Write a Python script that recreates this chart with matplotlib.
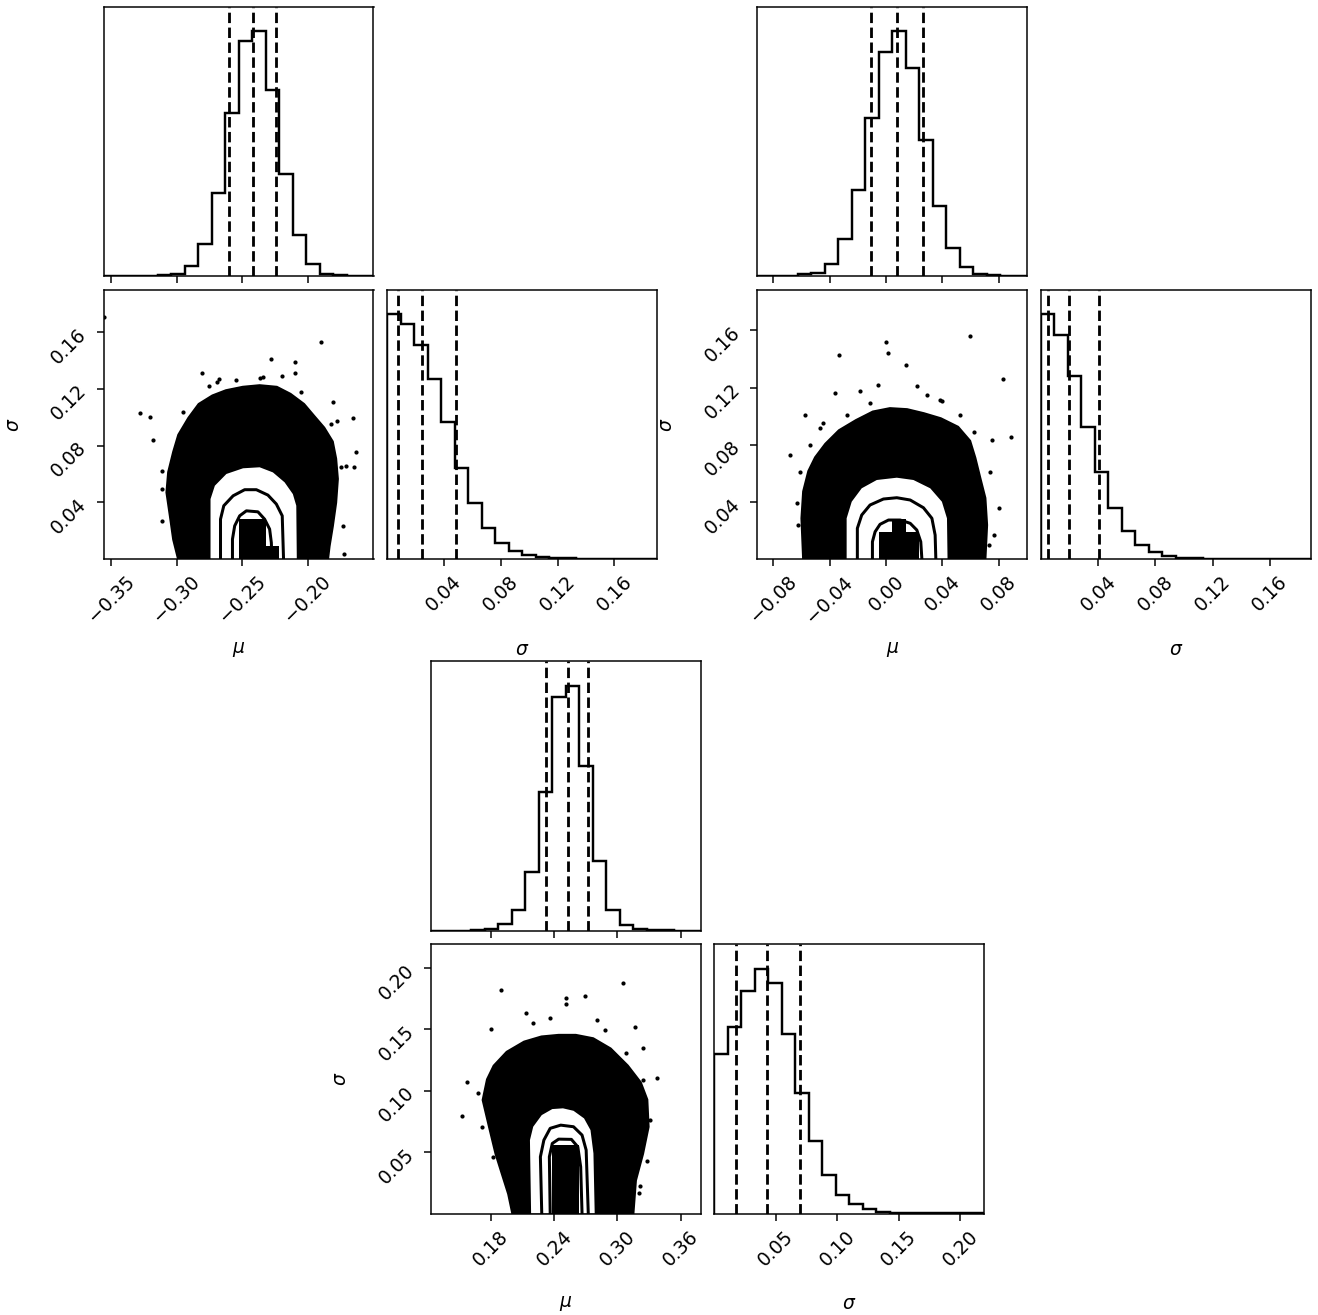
import numpy as np
import matplotlib
matplotlib.use("Agg")
import matplotlib.pyplot as plt

DPI = 135
W, H = 1318, 1315

# ================= set A (top-left) =================
A_mu_range = (-0.3556, -0.150)
A_sig_range = (0.0, 0.19)
A_mu_counts = [0, 0, 0, 1, 3, 11, 41, 132, 338, 668, 958, 1000, 759, 417, 168, 49, 11, 3, 0.5, 0.3]
A_sig_counts = [1000, 959, 873, 736, 561, 373, 228, 129, 67, 33, 16, 7, 4, 3, 2, 1, 0.6, 0.5, 0.3, 0.3]
A_mu_q = [-0.260, -0.2418, -0.224]
A_sig_q = [0.0077, 0.0243, 0.0484]
A_mu_ticks = [-0.35, -0.30, -0.25, -0.20]
A_sig_ticks = [0.04, 0.08, 0.12, 0.16]
A_cloud_mu = [-0.2974, -0.3012, -0.3037, -0.3063, -0.305, -0.3012, -0.2974, -0.2898, -0.2822,
              -0.2721, -0.262, -0.2493, -0.2367, -0.224, -0.2139, -0.2038, -0.1962, -0.1886,
              -0.1823, -0.1798, -0.1785, -0.1798, -0.1823, -0.1848, -0.186]
A_cloud_sig = [0, 0.0141, 0.0306, 0.0471, 0.0612, 0.0754, 0.0872, 0.099, 0.1085,
               0.1143, 0.1179, 0.1203, 0.1214, 0.1203, 0.1155, 0.1085, 0.1002, 0.092,
               0.0825, 0.0707, 0.0566, 0.04, 0.0235, 0.0093, 0]
A_out_mu = [-0.1899, -0.2101, -0.2094, -0.3278, -0.178, -0.1659, -0.1633, -0.1735, -0.1722,
            -0.3113, -0.2278, -0.3556, -0.2367, -0.2545, -0.275, -0.295, -0.311, -0.175,
            -0.182, -0.205, -0.2680, -0.2200, -0.2805, -0.2342, -0.2695, -0.3177, -0.3202,
            -0.3113, -0.3050, -0.1709, -0.1646, -0.1810]
A_out_sig = [0.1529, 0.1387, 0.1316, 0.1033, 0.0971, 0.0995, 0.0754, 0.0235, 0.0035,
             0.027, 0.141, 0.171, 0.128, 0.126, 0.122, 0.104, 0.062, 0.065,
             0.095, 0.118, 0.127, 0.129, 0.1316, 0.1285, 0.1250, 0.0837, 0.1002,
             0.0495, 0.0400, 0.0660, 0.0648, 0.1108]
A_c1_mu = [-0.2741, -0.2741, -0.2708, -0.262, -0.2493, -0.2367, -0.2266, -0.2177, -0.2114, -0.2088, -0.2084]
A_c1_sig = [0, 0.0424, 0.0518, 0.0601, 0.0641, 0.0648, 0.0612, 0.0542, 0.0459, 0.0377, 0]
A_c2_mu = [-0.2665, -0.2665, -0.264, -0.2569, -0.2481, -0.2392, -0.2304, -0.224, -0.2195, -0.2185]
A_c2_sig = [0, 0.0282, 0.0377, 0.0447, 0.049, 0.049, 0.0452, 0.0389, 0.0306, 0]
A_c3_mu = [-0.2574, -0.2574, -0.2557, -0.2519, -0.2468, -0.238, -0.2329, -0.2291, -0.2278, -0.2273]
A_c3_sig = [0, 0.0141, 0.0235, 0.0306, 0.0341, 0.0334, 0.0282, 0.0212, 0.0117, 0]
A_blk_left = [-0.2528, -0.2322]
A_blk_right = [-0.2322, -0.2222]
A_blk_top = [0.0285, 0.0095]

# ================= set B (top-right) =================
B_mu_range = (-0.0914, 0.1002)
B_sig_range = (0.0, 0.1885)
B_mu_counts = [0, 0, 1, 7, 14, 49, 150, 352, 647, 915, 1000, 850, 557, 288, 116, 38, 9.5, 3, 0.5, 0.3]
B_sig_counts = [1000, 916, 748, 540, 354, 211, 114, 59, 29, 14, 5.5, 3, 1.5, 1, 0.6, 0.4, 0.3, 0.2, 0.1, 0.1]
B_mu_q = [-0.0109, 0.0076, 0.0261]
B_sig_q = [0.0053, 0.0194, 0.0407]
B_mu_ticks = [-0.08, -0.04, 0.00, 0.04, 0.08]
B_sig_ticks = [0.04, 0.08, 0.12, 0.16]
B_cloud_mu = [-0.0576, -0.0588, -0.0576, -0.054, -0.0493, -0.0422, -0.0327, -0.0208, -0.009,
              0.0028, 0.0147, 0.0265, 0.0384, 0.0503, 0.0585, 0.0621, 0.0656, 0.0692, 0.0704, 0.0692]
B_cloud_sig = [0, 0.0286, 0.0472, 0.0612, 0.0706, 0.0799, 0.0892, 0.0962, 0.1021,
               0.1044, 0.1037, 0.1009, 0.0974, 0.0916, 0.0822, 0.0706, 0.0566, 0.0426, 0.0239, 0]
B_out_mu = [-0.0002, 0.0592, -0.0336, 0.0017, 0.0142, -0.0578, 0.0887, 0.0827, -0.0683,
            -0.0635, 0.0751, -0.0363, 0.0218, -0.0055, 0.0799, 0.0763, -0.0185, 0.0400, -0.0450,
            -0.0114, 0.0289, 0.0384, 0.0526, 0.0621, -0.0469, -0.0540, -0.0611, -0.0624,
            0.0739, 0.0727, -0.0280]
B_out_sig = [0.1519, 0.1558, 0.1425, 0.1439, 0.1355, 0.1009, 0.0853, 0.126, 0.0729,
             0.0391, 0.0834, 0.1161, 0.1208, 0.122, 0.0356, 0.0169, 0.1173, 0.1110, 0.0950,
             0.1091, 0.1150, 0.1115, 0.1009, 0.0892, 0.0916, 0.0799, 0.0612, 0.0239,
             0.0612, 0.0099, 0.1009]
B_c1_mu = [-0.028, -0.028, -0.0244, -0.0173, -0.0066, 0.0076, 0.0194, 0.0313, 0.0396, 0.0432, 0.0436]
B_c1_sig = [0, 0.0286, 0.0402, 0.0496, 0.0554, 0.057, 0.0554, 0.0496, 0.0402, 0.0286, 0]
B_c2_mu = [-0.0204, -0.0204, -0.0173, -0.0114, -0.0019, 0.0076, 0.0171, 0.0265, 0.0325, 0.0348, 0.0353]
B_c2_sig = [0, 0.0216, 0.0309, 0.0379, 0.0421, 0.043, 0.0414, 0.036, 0.0286, 0.0169, 0]
B_c3_mu = [-0.0097, -0.0097, -0.0078, -0.0043, 0.0017, 0.01, 0.0171, 0.0218, 0.0246, 0.0254]
B_c3_sig = [0, 0.0122, 0.0192, 0.0244, 0.0274, 0.0274, 0.0251, 0.0204, 0.0122, 0]
B_blk_left = [-0.0052, 0.0044, 0.0140]
B_blk_right = [0.0044, 0.0140, 0.0236]
B_blk_top = [0.0188, 0.0282, 0.0188]

# ================= set C (bottom) =================
C_mu_range = (0.123, 0.379)
C_sig_range = (0.0, 0.2196)
C_mu_counts = [0, 0, 0, 1.4, 5.5, 24.5, 82, 240, 567, 952, 1000, 672, 285, 82, 22, 5.5, 1.4, 0.3, 0, 0]
C_sig_counts = [652, 761, 907, 1000, 939, 734, 492, 295, 157, 76, 38, 18, 8, 4, 3, 1.5, 1, 0.5, 0.3, 0.2]
C_mu_q = [0.2321, 0.2528, 0.2718]
C_sig_q = [0.0175, 0.0426, 0.0696]
C_mu_ticks = [0.18, 0.24, 0.30, 0.36]
C_sig_ticks = [0.05, 0.10, 0.15, 0.20]
C_cloud_mu = [0.2021, 0.1981, 0.1921, 0.1861, 0.18, 0.174, 0.178, 0.1841, 0.1961, 0.2122, 0.2283,
              0.2443, 0.2604, 0.2765, 0.2926, 0.3086, 0.3207, 0.3267, 0.3279, 0.3227, 0.3159, 0.3135]
C_cloud_sig = [0, 0.0163, 0.0326, 0.049, 0.0707, 0.0925, 0.1088, 0.1196, 0.1306, 0.1387, 0.1428,
               0.1441, 0.1441, 0.1414, 0.1333, 0.1196, 0.1061, 0.0925, 0.0707, 0.049, 0.0272, 0]
C_out_mu = [0.1531, 0.1571, 0.18, 0.1893, 0.2134, 0.2512, 0.2512, 0.2697, 0.3054, 0.3167,
            0.3239, 0.338, 0.3279, 0.3218, 0.2363, 0.2805, 0.1680, 0.1720, 0.1821, 0.2202,
            0.2886, 0.3086, 0.3247, 0.3308, 0.3207]
C_out_sig = [0.0794, 0.1074, 0.1501, 0.1822, 0.1637, 0.1754, 0.1708, 0.1773, 0.1882, 0.1518,
             0.1346, 0.1107, 0.0427, 0.0223, 0.1591, 0.1577, 0.0979, 0.0707, 0.0462, 0.1550,
             0.1496, 0.1306, 0.1088, 0.0761, 0.0163]
C_c1_mu = [0.2182, 0.2171, 0.2202, 0.2283, 0.2383, 0.2484, 0.2584, 0.2684, 0.2745, 0.2773, 0.2785]
C_c1_sig = [0, 0.0598, 0.0707, 0.0802, 0.0851, 0.0857, 0.0837, 0.0775, 0.068, 0.049, 0]
C_c2_mu = [0.2283, 0.227, 0.2303, 0.2363, 0.2463, 0.2584, 0.2665, 0.2704, 0.2724]
C_c2_sig = [0, 0.0462, 0.0598, 0.0694, 0.072, 0.0707, 0.0639, 0.0517, 0]
C_c3_mu = [0.2363, 0.2355, 0.2383, 0.2443, 0.2564, 0.2625, 0.2652, 0.2665]
C_c3_sig = [0, 0.0462, 0.0571, 0.0606, 0.0604, 0.0543, 0.038, 0]
C_blk_left = [0.2382]
C_blk_right = [0.2638]
C_blk_top = [0.0557]

# labels
MU_LABEL = r"$\mu$"
SIG_LABEL = r"$\sigma$"

fig = plt.figure(figsize=(W / DPI, H / DPI), dpi=DPI)

PW, PH, GAP = 270.0, 269.5, 13.5


def fmt(t):
    s = f"{t:.2f}"
    return s.replace("-", "\u2212")


def rect(left, top, col, row):
    x0 = left + col * (PW + GAP)
    y0 = top + row * (PH + GAP)
    return [x0 / W, 1 - (y0 + PH) / H, PW / W, PH / H]


def hist_panel(ax, rng, counts, q, ticks, labels):
    edges = np.linspace(rng[0], rng[1], len(counts) + 1)
    ax.stairs(counts, edges, color="k", lw=1.3)
    for v in q:
        ax.axvline(v, color="k", ls="dashed", lw=1.5)
    ax.set_xlim(rng)
    ax.set_ylim(0, 1.1 * max(counts))
    ax.set_yticks([])
    ax.set_xticks(ticks)
    if labels:
        ax.set_xticklabels([fmt(t) for t in ticks])
        ax.tick_params(axis="x", labelrotation=45)
    else:
        ax.set_xticklabels([])


def corner(left, top, d):
    ax_h1 = fig.add_axes(rect(left, top, 0, 0))
    ax_2d = fig.add_axes(rect(left, top, 0, 1))
    ax_h2 = fig.add_axes(rect(left, top, 1, 1))

    hist_panel(ax_h1, d["mu_range"], d["mu_counts"], d["mu_q"], d["mu_ticks"], False)
    hist_panel(ax_h2, d["sig_range"], d["sig_counts"], d["sig_q"], d["sig_ticks"], True)
    ax_h2.set_xlabel(SIG_LABEL)
    ax_h2.xaxis.set_label_coords(0.5, -0.3)

    ax = ax_2d
    ax.fill(d["cloud_mu"], d["cloud_sig"], color="k", lw=3, ec="k", zorder=1)
    ax.scatter(d["out_mu"], d["out_sig"], s=5, color="k", lw=0, zorder=1)
    ax.fill(d["c1_mu"], d["c1_sig"], color="w", lw=0, zorder=2)
    ax.bar(d["blk_left"], d["blk_top"],
           width=np.array(d["blk_right"]) - np.array(d["blk_left"]),
           align="edge", color="k", lw=0, zorder=2.5)
    ax.plot(d["c2_mu"], d["c2_sig"], color="k", lw=1.6, zorder=3)
    ax.plot(d["c3_mu"], d["c3_sig"], color="k", lw=1.6, zorder=3)
    ax.set_xlim(d["mu_range"])
    ax.set_ylim(d["sig_range"])
    ax.set_xticks(d["mu_ticks"])
    ax.set_xticklabels([fmt(t) for t in d["mu_ticks"]])
    ax.set_yticks(d["sig_ticks"])
    ax.set_yticklabels([fmt(t) for t in d["sig_ticks"]])
    ax.tick_params(axis="x", labelrotation=45)
    ax.tick_params(axis="y", labelrotation=45)
    ax.set_xlabel(MU_LABEL)
    ax.set_ylabel(SIG_LABEL)
    ax.xaxis.set_label_coords(0.5, -0.3)
    ax.yaxis.set_label_coords(-0.3, 0.5)


def pack(p):
    g = globals()
    keys = ["mu_range", "sig_range", "mu_counts", "sig_counts", "mu_q", "sig_q", "mu_ticks",
            "sig_ticks", "cloud_mu", "cloud_sig", "out_mu", "out_sig", "c1_mu", "c1_sig",
            "c2_mu", "c2_sig", "c3_mu", "c3_sig", "blk_left", "blk_right", "blk_top"]
    return {k: g[f"{p}_{k}"] for k in keys}


corner(103.5, 6.7, pack("A"))
corner(757.3, 6.7, pack("B"))
corner(430.7, 661.0, pack("C"))

fig.savefig("out.png", dpi=DPI)
